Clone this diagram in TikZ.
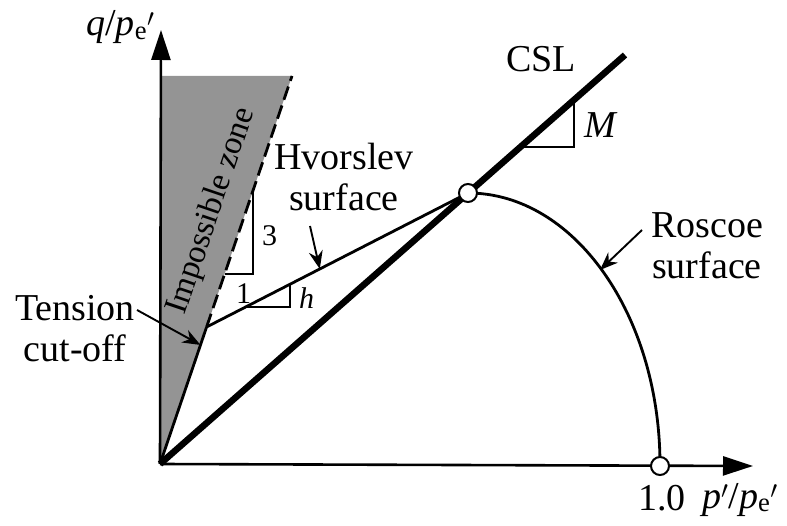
\documentclass[tikz,border=0pt]{standalone}
\usepackage{fontspec}
\setmainfont{Liberation Serif}
\usetikzlibrary{arrows.meta,calc}
\begin{document}
\begin{tikzpicture}[x=1pt,y=-1pt,
  thinline/.style={line width=2.8pt},
  axisarrow/.style={line width=2.6pt,-{Triangle[length=30pt,width=19pt]}},
  labarrow/.style={line width=1.9pt,-{Stealth[length=18pt,width=14pt]}},
  lab/.style={font=\fontsize{38}{41}\selectfont,inner sep=0pt},
  smalllab/.style={font=\fontsize{30}{34}\selectfont,inner sep=0pt},
  ring/.style={circle,draw,fill=white,line width=2pt,minimum size=18pt,inner sep=0pt}]
\useasboundingbox (0,0) rectangle (787,526);
% key points
\coordinate (O) at (160,464);
\coordinate (T) at (206.6,327);
\coordinate (Dtop) at (292,76);
\coordinate (Ytop) at (161,76);
\coordinate (Yend) at (161,30);
\coordinate (Xend) at (753,466);
\coordinate (Cend) at (625,55);
\coordinate (P) at (468,193);
\coordinate (E) at (660,466);
% impossible zone
\fill[black!42] (161,464) -- (Ytop) -- (Dtop) -- (T) -- cycle;
\node[font=\fontsize{33}{36}\selectfont,rotate=71.3,inner sep=0pt] (imp) at (212,211) {Impossible zone};
% axes
\draw[axisarrow] (O) -- (Yend);
\draw[axisarrow] (O) -- (Xend);
% lines
\draw[thinline] (O) -- (T);
\draw[thinline,dash pattern=on 14pt off 6pt] (T) -- (Dtop);
\draw[thinline] (T) -- (P);
\draw[line width=6.5pt] (O) -- (Cend);
\draw[thinline] (P) arc[start angle=-90,end angle=0,x radius=192,y radius=272];
% slope triangles
\draw[line width=2.2pt] (247,307) -- (290,307) -- (290,285.5);
\draw[line width=2.2pt] (225,274) -- (253,274) -- (253,190);
\draw[line width=2.2pt] (520,147) -- (574,147) -- (574,100);
% rings
\node[ring] (Pc) at (P) {};
\node[ring] (Ec) at (E) {};
% labels
\node[lab,anchor=base west] (qlab) at (86,36) {\textit{q}/\textit{p}\textsubscript{e}$^{\prime}$};
\node[lab,anchor=base west] (plab) at (702,508) {\textit{p}$^{\prime}$/\textit{p}\textsubscript{e}$^{\prime}$};
\node[lab,anchor=base] (one) at (662,510) {1.0};
\node[lab,anchor=base] (csl) at (541,72) {CSL};
\node[lab,anchor=base west] (M) at (584,138) {\textit{M}};
\node[smalllab,anchor=base west] (h) at (299,309) {\textit{h}};
\node[smalllab,anchor=base west] (n1) at (236,304) {1};
\node[smalllab,anchor=base west] (n3) at (262,246) {3};
\node[lab,anchor=base,align=center] (hv) at (344,211) {Hvorslev\\surface};
\node[lab,anchor=base,align=center] (ros) at (707,279) {Roscoe\\surface};
\node[lab,anchor=base,align=center] (ten) at (75,362) {Tension\\cut-off};
% label arrows
\coordinate (hvtip) at ($(T)!0.433!(P)$);
\coordinate (tentip) at ($(O)!0.869!(T)$);
\coordinate (rostip) at (600,270);
\draw[labarrow] (310,226) -- (hvtip);
\draw[labarrow] (137,310) -- (tentip);
\draw[labarrow] (642,230) -- (rostip);
\end{tikzpicture}
\end{document}
